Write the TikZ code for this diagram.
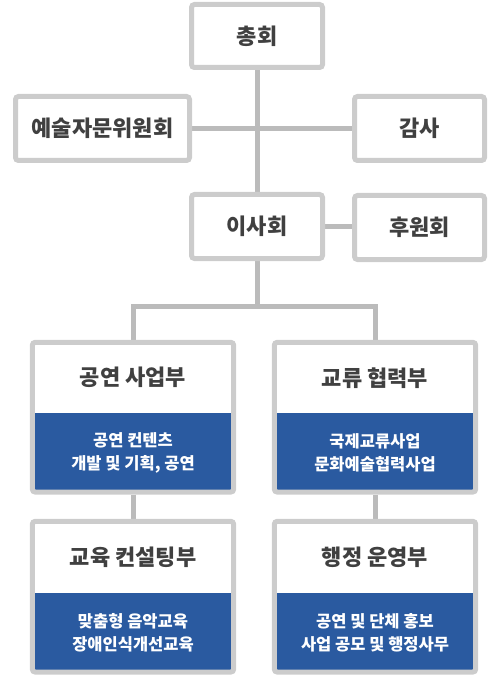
\documentclass[tikz,border=0pt]{standalone}
\usepackage{fontspec}
\setmainfont{Noto Sans CJK KR}
\usetikzlibrary{fit,positioning,backgrounds}
\definecolor{framegray}{HTML}{CCCCCC}
\definecolor{linegray}{HTML}{BBBBBB}
\definecolor{deptblue}{HTML}{2A5AA0}
\definecolor{textgray}{HTML}{404040}
\begin{document}
\begin{tikzpicture}[x=1pt,y=-1pt,
  box/.style={draw=framegray, line width=5pt, rounded corners=3pt, fill=white,
    text=textgray, font=\bfseries\fontsize{22}{26}\selectfont, inner sep=0pt},
  titlepart/.style={minimum width=201pt, inner sep=0pt, text=textgray, fill=white,
    font=\bfseries\fontsize{22}{26}\selectfont},
  descpart/.style={minimum width=201pt, inner sep=0pt, fill=deptblue, text=white,
    align=center, font=\bfseries\fontsize{16.5}{23}\selectfont},
  frame/.style={draw=framegray, line width=5pt, rounded corners=3pt, inner sep=0pt},
  conn/.style={draw=linegray, line width=5pt}]
\useasboundingbox (0,0) rectangle (500,676);

\coordinate (bl) at (133,306);
\coordinate (br) at (375,306);
\coordinate (bm) at (257,306);

% top boxes
\node[box, minimum width=131pt, minimum height=63pt] (chonghoe) at (257,36) {총회};
\node[box, minimum width=174pt, minimum height=64pt] (jamun) at (102.5,128.5) {예술자문위원회};
\node[box, minimum width=130pt, minimum height=64pt] (gamsa) at (419.5,128.5) {감사};
\node[box, minimum width=131pt, minimum height=64pt] (isahoe) at (257,226.5) {이사회};
\node[box, minimum width=130pt, minimum height=64pt] (huwon) at (419.5,227.5) {후원회};

% department boxes
\node[titlepart, minimum height=70.5pt] (t1) at (133,377.75) {공연 사업부};
\node[descpart, minimum height=78.5pt, below=0pt of t1] (d1) {공연 컨텐츠\\개발 및 기획, 공연};
\node[titlepart, minimum height=70.5pt] (t2) at (375,377.75) {교류 협력부};
\node[descpart, minimum height=78.5pt, below=0pt of t2] (d2) {국제교류사업\\문화예술협력사업};
\node[titlepart, minimum height=71.5pt] (t3) at (133,557.25) {교육 컨설팅부};
\node[descpart, minimum height=78.5pt, below=0pt of t3] (d3) {맞춤형 음악교육\\장애인식개선교육};
\node[titlepart, minimum height=71.5pt] (t4) at (375,557.25) {행정 운영부};
\node[descpart, minimum height=78.5pt, below=0pt of t4] (d4) {공연 및 단체 홍보\\사업 공모 및 행정사무};

\node[frame, fit=(t1)(d1)] (f1) {};
\node[frame, fit=(t2)(d2)] (f2) {};
\node[frame, fit=(t3)(d3)] (f3) {};
\node[frame, fit=(t4)(d4)] (f4) {};

% connectors behind the boxes
\begin{scope}[on background layer]
\path[conn] (chonghoe.south) -- (isahoe.north);
\path[conn] (jamun.east) -- (gamsa.west);
\path[conn] (isahoe.east) -- (huwon.west |- isahoe.east);
\path[conn] (isahoe.south) -- (bm);
\path[conn] (f1.north) -- (bl) -- (br) -- (f2.north);
\path[conn] (f1.south) -- (f3.north);
\path[conn] (f2.south) -- (f4.north);
\end{scope}
\end{tikzpicture}
\end{document}
